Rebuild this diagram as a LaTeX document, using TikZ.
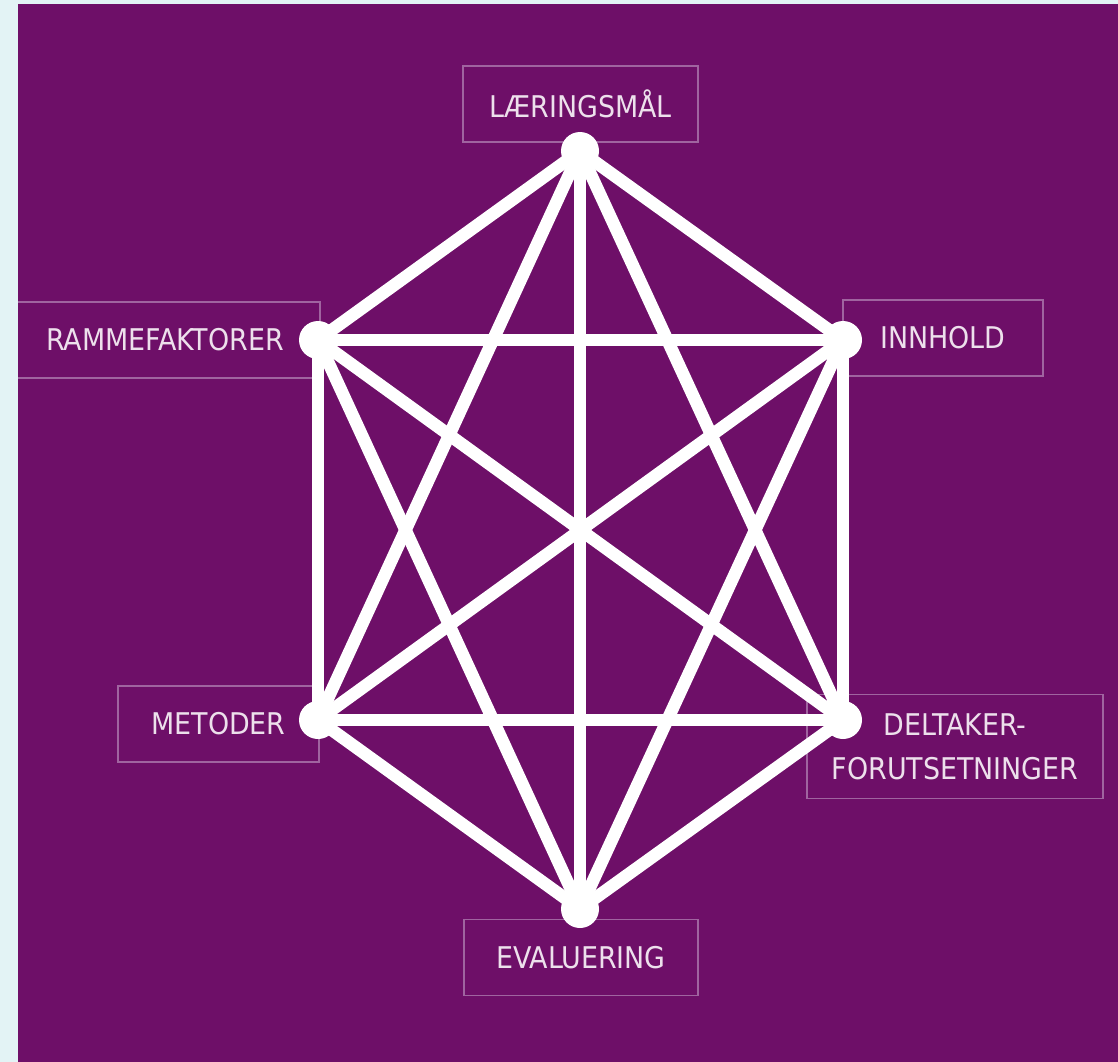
\documentclass[tikz,border=0pt]{standalone}
\usepackage{fontspec}
\setmainfont{DejaVu Sans Condensed}
\definecolor{bgpurple}{HTML}{6E0F68}
\definecolor{pagebg}{HTML}{E3F3F5}
\definecolor{boxline}{HTML}{A064A0}
\definecolor{labeltext}{HTML}{EDE0EC}
\tikzset{
  lbox/.style={draw=boxline, line width=1.2bp, text=labeltext, align=center,
    inner sep=0pt, font=\fontsize{30}{44}\selectfont},
  edge/.style={white, line width=12.5bp, line cap=round},
}
\begin{document}
\begin{tikzpicture}[x=1bp,y=-1bp]
\useasboundingbox (0,0) rectangle (1118,1062);
\fill[pagebg] (0,0) rectangle (1118,1062);
\fill[bgpurple] (18,4) rectangle (1118,1062);
\begin{scope}
\clip (18,4) rectangle (1118,1062);
\node[lbox, minimum width=235bp, minimum height=76bp] (lm) at (580.5,104) {LÆRINGSMÅL};
\node[lbox, minimum width=310bp, minimum height=76bp] (rf) at (165,340) {RAMMEFAKTORER};
\node[lbox, minimum width=200bp, minimum height=76bp] (ih) at (943,338) {INNHOLD};
\node[lbox, minimum width=201bp, minimum height=76bp] (me) at (218.5,724) {METODER};
\node[lbox, minimum width=296bp, minimum height=104bp] (dt) at (955,746.5) {DELTAKER-\\FORUTSETNINGER};
\node[lbox, minimum width=234bp, minimum height=76bp] (ev) at (581,957.5) {EVALUERING};
\end{scope}
\coordinate (t) at (580,151);
\coordinate (lu) at (318,340);
\coordinate (ru) at (843,340);
\coordinate (ll) at (318,720);
\coordinate (rl) at (843,720);
\coordinate (b) at (580,909);
\foreach \a/\b in {t/lu,t/ru,t/ll,t/rl,t/b,lu/ru,lu/ll,lu/rl,lu/b,ru/ll,ru/rl,ru/b,ll/rl,ll/b,rl/b}
  \draw[edge] (\a) -- (\b);
\foreach \p in {t,lu,ru,ll,rl,b}
  \fill[white] (\p) circle (19bp);
\end{tikzpicture}
\end{document}
